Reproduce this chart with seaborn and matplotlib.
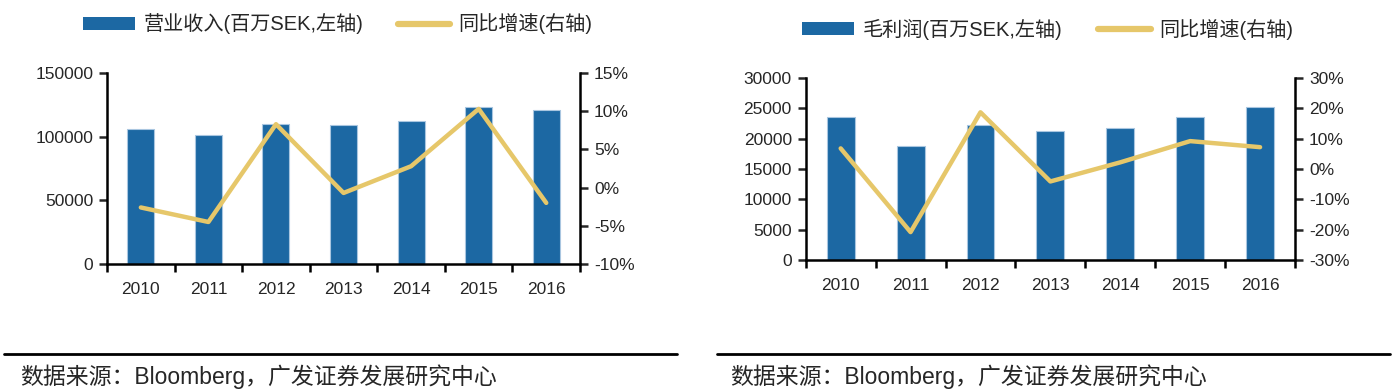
import numpy as np
import pandas as pd
import matplotlib
matplotlib.use("Agg")
import matplotlib.pyplot as plt
from matplotlib.patches import Patch
from matplotlib.lines import Line2D
from matplotlib.ticker import FuncFormatter, FixedLocator, NullFormatter
import seaborn as sns

years = ["2010", "2011", "2012", "2013", "2014", "2015", "2016"]
revenue = [106000, 101500, 109900, 109100, 112000, 123600, 121200]
revenue_yoy = [-2.6, -4.5, 8.3, -0.7, 2.8, 10.3, -2.0]
gross_profit = [23650, 18750, 22200, 21250, 21700, 23650, 25300]
gross_profit_yoy = [6.8, -20.8, 18.7, -4.1, 2.2, 9.2, 7.2]

left_bar_label = "营业收入(百万SEK,左轴)"
right_bar_label = "毛利润(百万SEK,左轴)"
line_label = "同比增速(右轴)"
source_text = "数据来源：Bloomberg，广发证券发展研究中心"

sns.set_theme(style="white")
plt.rcParams["font.family"] = ["Liberation Sans", "Noto Sans CJK SC", "DejaVu Sans"]

BAR = "#1C68A3"
EDGE = "#A9C6E0"
LINE = "#E6C76A"
TICK_FS = 12.5

fig = plt.figure(figsize=(13.94, 3.92), dpi=100)


def draw(rect, vals, yoy, ylim, ystep, rlim, rstep, bar_label, legend_anchor, spacing):
    ax = fig.add_axes(rect)
    df = pd.DataFrame({"year": years, "val": vals})
    sns.barplot(data=df, x="year", y="val", ax=ax, color=BAR, width=0.4,
                edgecolor=EDGE, linewidth=0.8, saturation=1)
    ax.set_xlim(-0.5, len(years) - 0.5)
    ax.set_ylim(*ylim)
    ax.set_yticks(np.arange(ylim[0], ylim[1] + 1, ystep))
    ax.yaxis.set_major_formatter(FuncFormatter(lambda v, p: f"{int(v)}"))
    ax.set_xlabel("")
    ax.set_ylabel("")
    ax.xaxis.set_major_locator(FixedLocator(np.arange(-0.5, len(years), 1.0)))
    ax.xaxis.set_major_formatter(NullFormatter())
    ax.xaxis.set_minor_locator(FixedLocator(np.arange(len(years))))
    ax.xaxis.set_minor_formatter(FuncFormatter(lambda v, p: years[int(round(v))]))
    ax.tick_params(axis="x", which="major", length=6, width=1.8, direction="out", bottom=True, colors="black")
    ax.tick_params(axis="x", which="minor", length=0, labelsize=TICK_FS, pad=13, bottom=True)
    ax.tick_params(axis="y", length=6, width=1.8, direction="out", left=True, labelsize=TICK_FS, pad=4)
    for s in ["top", "right"]:
        ax.spines[s].set_visible(False)
    for s in ["left", "bottom"]:
        ax.spines[s].set_color("black")
        ax.spines[s].set_linewidth(1.8)

    ax2 = ax.twinx()
    ldf = pd.DataFrame({"pos": np.arange(len(years)), "yoy": yoy})
    sns.lineplot(data=ldf, x="pos", y="yoy", ax=ax2, color=LINE, linewidth=3.2)
    ax2.set_ylim(*rlim)
    ax2.set_yticks(np.arange(rlim[0], rlim[1] + 0.1, rstep))
    ax2.yaxis.set_major_formatter(FuncFormatter(lambda v, p: f"{int(round(v))}%"))
    ax2.set_ylabel("")
    ax2.set_xlabel("")
    ax2.set_xlim(-0.5, len(years) - 0.5)
    ax2.tick_params(axis="y", length=6, width=1.8, direction="out", right=True, labelsize=TICK_FS, pad=4)
    for s in ["top", "left", "bottom"]:
        ax2.spines[s].set_visible(False)
    ax2.spines["right"].set_color("black")
    ax2.spines["right"].set_linewidth(1.8)
    ax2.xaxis.set_visible(False)

    handles = [Patch(facecolor=BAR, edgecolor="none"),
               Line2D([0], [0], color=LINE, linewidth=4.5, solid_capstyle="round")]
    fig.legend(handles, [bar_label, line_label], loc="center left",
               bbox_to_anchor=legend_anchor, ncol=2, frameon=False,
               fontsize=14.5, handlelength=2.6, handleheight=0.58,
               handletextpad=0.4, columnspacing=spacing, borderaxespad=0,
               borderpad=0)
    return ax


draw([0.0768, 0.3265, 0.3393, 0.4873], revenue, revenue_yoy, (0, 150000), 50000,
     (-10, 15), 5, left_bar_label, (83 / 1394, 0.939), 1.7)
draw([0.578, 0.3367, 0.351, 0.4643], gross_profit, gross_profit_yoy, (0, 30000), 5000,
     (-30, 30), 10, right_bar_label, (802 / 1394, 0.926), 1.8)

# footer rules and source text
fig.add_artist(Line2D([4 / 1394, 677 / 1394], [1 - 354 / 392] * 2, color="black", linewidth=2))
fig.add_artist(Line2D([717 / 1394, 1390 / 1394], [1 - 354 / 392] * 2, color="black", linewidth=2))
fig.text(20 / 1394, 1 - 377 / 392, source_text, fontsize=16.5, va="center", ha="left")
fig.text(730 / 1394, 1 - 377 / 392, source_text, fontsize=16.5, va="center", ha="left")

fig.savefig("out.png", dpi=100)
